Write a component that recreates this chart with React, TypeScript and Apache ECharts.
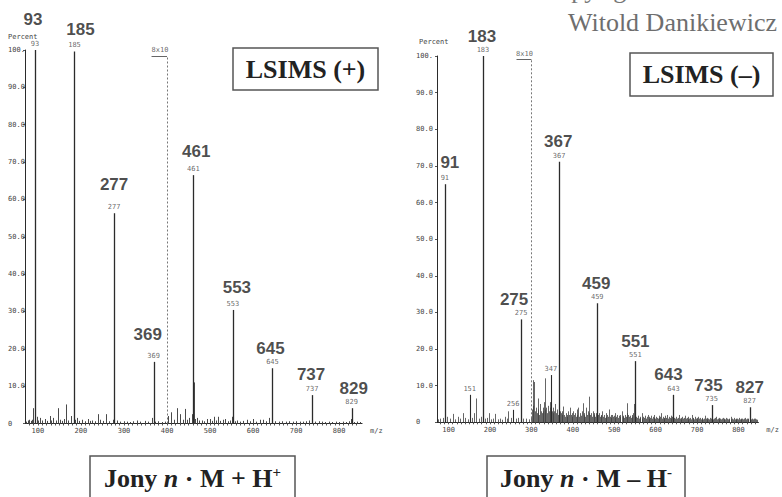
import React, { useEffect, useRef } from "react";
import * as echarts from "echarts";

// Principal ion series (m/z and relative intensity, %)
const leftIonMz = [93, 185, 277, 369, 461, 553, 645, 737, 829];
const leftIonPct = [100, 99.6, 56.3, 16.5, 66.5, 30.4, 14.8, 7.6, 4.1];
const rightIonMz = [91, 183, 275, 367, 459, 551, 643, 735, 827];
const rightIonPct = [65, 100, 28.1, 71.1, 32.5, 16.7, 7.5, 4.7, 4.1];

// Smaller labelled peaks in the negative-ion spectrum
const rightMinorMz = [151, 256, 347];
const rightMinorPct = [7.5, 3.4, 12.9];

// Unlabelled peaks [m/z, %]
const leftNoise: [number, number][] = [
  [72, 0.5], [76, 0.8], [80, 1.0], [84, 0.7], [87, 1.0], [89, 4.1], [94, 16.5], [97, 1.8],
  [101, 0.8], [105, 1.5], [110, 0.8], [116, 1.2], [122, 0.7], [128, 2.0], [131, 0.8], [135, 1.5],
  [141, 0.8], [147, 4.1], [151, 1.0], [157, 0.7], [161, 1.2], [165, 5.1], [170, 0.8], [178, 2.0],
  [184, 27.0], [187, 1.0], [190, 1.5], [196, 0.7], [202, 1.0], [209, 0.6], [217, 1.2], [221, 0.7],
  [225, 0.8], [232, 0.6], [240, 2.5], [244, 1.0], [251, 0.7], [258, 2.5], [265, 0.6], [274, 1.0],
  [276, 5.7], [283, 0.8], [291, 0.5], [299, 0.6], [306, 0.5], [314, 0.4], [322, 0.6], [330, 0.8],
  [338, 0.5], [349, 0.7], [356, 0.5], [364, 1.5], [372, 0.5], [380, 0.6], [388, 0.4], [396, 0.5],
  [403, 2.0], [409, 3.0], [416, 1.0], [424, 4.1], [430, 2.5], [436, 1.0], [442, 3.9], [446, 1.0],
  [450, 1.5], [457, 2.5], [462, 11.0], [465, 1.2], [469, 1.5], [475, 0.8], [481, 0.8], [486, 0.6],
  [492, 1.2], [500, 1.2], [504, 0.7], [508, 1.8], [513, 0.8], [519, 1.8], [524, 0.7], [530, 1.0],
  [535, 1.2], [541, 0.6], [546, 0.8], [552, 1.8], [558, 0.6], [563, 0.8], [570, 0.5], [577, 0.7],
  [585, 1.0], [592, 0.6], [600, 1.2], [607, 0.5], [616, 1.0], [623, 1.0], [630, 0.6], [636, 1.5],
  [644, 1.5], [652, 0.6], [660, 0.5], [668, 0.6], [676, 0.5], [684, 0.6], [692, 0.5], [700, 0.6],
  [708, 0.5], [716, 0.5], [722, 0.6], [729, 0.8], [736, 1.5], [744, 0.5], [752, 0.6], [760, 0.5],
  [768, 0.4], [776, 0.5], [784, 0.4], [792, 0.5], [800, 0.4], [808, 0.5], [816, 0.4], [822, 0.6],
  [828, 1.2], [835, 0.4], [842, 0.5], [848, 0.4],
];

const rightNoise: [number, number][] = [
  [75, 0.8], [80, 1.0], [86, 1.2], [92, 13.5], [97, 1.5], [104, 1.0], [110, 2.3], [116, 0.8],
  [122, 1.5], [128, 1.0], [134, 2.5], [140, 1.2], [146, 0.8], [157, 1.2], [162, 2.5], [167, 6.5],
  [173, 1.0], [178, 1.5], [182, 24.7], [188, 1.0], [193, 1.2], [197, 2.5], [203, 0.8], [208, 1.0],
  [213, 2.3], [219, 0.8], [224, 1.0], [230, 0.7], [236, 1.5], [240, 1.0], [244, 3.0], [250, 1.2],
  [262, 1.0], [268, 1.2], [274, 7.7], [280, 1.0], [287, 1.0], [293, 0.8], [298, 1.2],
  [301, 3.5], [303, 11.5], [305, 4.5], [307, 11.0], [309, 3.0], [311, 4.0], [313, 2.5], [315, 6.5],
  [317, 3.5], [319, 2.0], [321, 5.0], [323, 3.0], [325, 2.5], [327, 4.0], [329, 3.0], [331, 5.5],
  [333, 3.5], [334, 12.0], [336, 4.0], [338, 2.5], [340, 4.5], [342, 3.0], [344, 5.5], [346, 4.0],
  [349, 3.0], [351, 2.5], [353, 4.0], [355, 3.0], [357, 5.0], [359, 2.5], [361, 3.5], [363, 2.0],
  [366, 27.5], [369, 3.0], [371, 2.5], [373, 2.0], [375, 3.0], [377, 4.3], [379, 2.0], [381, 1.5],
  [383, 2.5], [385, 2.0], [387, 1.5], [389, 3.0], [391, 2.0], [393, 4.0], [395, 2.0], [397, 2.5],
  [399, 1.5], [401, 3.0], [403, 2.0], [405, 2.5], [407, 1.5], [409, 3.5], [411, 2.0], [413, 4.0],
  [415, 1.5], [417, 2.5], [419, 1.8], [421, 3.0], [424, 5.2], [426, 2.0], [428, 2.5], [430, 1.5],
  [432, 4.0], [434, 2.0], [436, 3.0], [438, 2.5], [440, 7.0], [442, 2.0], [444, 2.5], [446, 1.5],
  [448, 3.0], [450, 2.0], [452, 2.5], [454, 1.5], [456, 2.5], [458, 7.0], [461, 2.0], [463, 2.5],
  [465, 1.5], [467, 2.0], [469, 1.8], [471, 3.0], [473, 1.5], [475, 2.0], [477, 1.2], [479, 2.5],
  [481, 1.5], [483, 2.0], [485, 1.5], [487, 3.5], [489, 1.5], [491, 2.0], [493, 1.2], [495, 2.0],
  [497, 1.5], [499, 1.8], [501, 1.2], [503, 2.5], [505, 1.5], [507, 2.0], [509, 1.2], [511, 1.8],
  [513, 1.5], [515, 2.0], [518, 3.0], [520, 1.5], [522, 1.8], [524, 1.2], [526, 2.0], [528, 1.5],
  [530, 2.5], [532, 5.2], [534, 2.0], [536, 1.5], [538, 1.8], [540, 1.2], [542, 2.0], [544, 1.5],
  [546, 2.5], [548, 5.0], [553, 1.5], [555, 1.2], [557, 1.8], [559, 1.0], [561, 1.5], [563, 1.2],
  [566, 2.5], [568, 1.0], [570, 1.5], [572, 1.2], [574, 1.8], [576, 1.0], [578, 1.5], [581, 2.0],
  [583, 1.0], [585, 1.5], [587, 1.2], [589, 1.8], [591, 1.0], [593, 1.5], [595, 1.2], [597, 2.0],
  [599, 1.0], [601, 1.5], [603, 1.2], [605, 1.0], [607, 1.8], [609, 1.2], [611, 1.5], [613, 2.5],
  [615, 1.0], [617, 1.5], [619, 1.2], [621, 1.0], [623, 1.8], [625, 1.2], [628, 2.0], [630, 1.0],
  [632, 1.5], [634, 1.2], [636, 1.8], [638, 1.0], [640, 1.5], [642, 4.0], [645, 1.2], [647, 1.0],
  [649, 1.5], [651, 1.0], [653, 1.2], [656, 2.0], [658, 1.0], [660, 1.2], [662, 0.8], [664, 1.5],
  [666, 1.0], [668, 1.2], [671, 1.8], [673, 1.0], [675, 1.2], [677, 0.8], [679, 1.5], [681, 1.0],
  [683, 1.2], [685, 0.8], [687, 2.0], [689, 1.0], [691, 1.2], [693, 0.8], [695, 1.5], [697, 1.0],
  [699, 1.2], [701, 0.8], [703, 1.5], [705, 1.0], [707, 1.2], [709, 0.8], [711, 1.0], [713, 1.2],
  [715, 0.8], [717, 1.0], [719, 1.8], [721, 1.0], [723, 0.8], [725, 1.2], [727, 1.0], [729, 0.8],
  [731, 1.2], [733, 1.0], [737, 1.0], [739, 0.8], [741, 1.0], [743, 1.2], [746, 1.5], [748, 0.8],
  [750, 1.0], [752, 0.8], [754, 1.2], [756, 1.0], [758, 0.8], [760, 1.0], [762, 1.2], [764, 0.8],
  [766, 1.0], [768, 0.8], [770, 1.2], [772, 1.0], [774, 0.8], [776, 1.0], [778, 0.8], [781, 1.5],
  [783, 0.8], [785, 1.0], [787, 0.8], [789, 1.2], [791, 0.8], [793, 1.0], [795, 0.8], [797, 1.0],
  [799, 0.8], [801, 1.2], [803, 0.8], [805, 1.0], [807, 0.8], [809, 1.0], [811, 0.8], [813, 1.0],
  [816, 1.2], [818, 0.8], [820, 1.0], [822, 0.8], [824, 1.0], [829, 1.0], [831, 0.8], [833, 1.0],
  [835, 0.8], [837, 1.0], [840, 1.0], [842, 0.8], [844, 0.7],
];

// Axis ticks and labels
const yTickValues = [0, 10, 20, 30, 40, 50, 60, 70, 80, 90, 100];
const yTickLabels = ["0", "10.0", "20.0", "30.0", "40.0", "50.0", "60.0", "70.0", "80.0", "90.0", "100."];
const xTickLabels = [100, 200, 300, 400, 500, 600, 700, 800];

// Start of the x10 magnified region
const leftMagnifyFrom = 400;
const rightMagnifyFrom = 300;
const magnifyLabel = "8x10";

// Headline label placement: [horizontal shift px, gap above peak px]
const leftBigLabelPlace = [[-2, 22], [6, 13], [0, 20], [-6, 18], [3, 15], [4, 13], [-2, 11], [-1, 12], [2, 11]];
const rightBigLabelPlace = [[5, 13], [-1, 11], [-7, 11], [-1, 11], [-1, 11], [0, 11], [-5, 11], [-3, 11], [0, 11]];

const MONO = "'DejaVu Sans Mono', 'Liberation Mono', monospace";
const SANS = "'Liberation Sans', Arial, sans-serif";
const SERIF = "'Liberation Serif', 'Times New Roman', serif";
const INK = "#2b2b2b";

const minorTicks: number[] = [];
for (let v = 80; v <= 840; v += 10) minorTicks.push(v);

function stickSeries(idx: number, data: [number, number][], color: string, width: number) {
  return {
    type: "custom",
    xAxisIndex: idx,
    yAxisIndex: idx,
    silent: true,
    clip: false,
    data,
    encode: { x: 0, y: 1 },
    renderItem: (_params: any, api: any) => {
      const base = api.coord([api.value(0), 0]);
      const top = api.coord([api.value(0), api.value(1)]);
      const x = Math.round(base[0]) + 0.5;
      return {
        type: "line",
        shape: { x1: x, y1: base[1], x2: x, y2: top[1] },
        style: { stroke: color, lineWidth: width },
      };
    },
  };
}

function smallLabels(idx: number, mz: number[], pct: number[]) {
  return {
    type: "scatter",
    xAxisIndex: idx,
    yAxisIndex: idx,
    silent: true,
    symbolSize: 1,
    itemStyle: { color: "transparent" },
    data: mz.map((m, i) => [m, pct[i]]),
    label: {
      show: true,
      position: "top",
      distance: 2,
      formatter: (p: any) => String(p.value[0]),
      fontFamily: MONO,
      fontSize: 7,
      color: "#444",
    },
  };
}

function bigLabels(idx: number, mz: number[], pct: number[], place: number[][]) {
  return {
    type: "scatter",
    xAxisIndex: idx,
    yAxisIndex: idx,
    silent: true,
    symbolSize: 1,
    itemStyle: { color: "transparent" },
    data: mz.map((m, i) => ({
      value: [m, pct[i]],
      label: { offset: [place[i][0], 0], distance: place[i][1] },
    })),
    label: {
      show: true,
      position: "top",
      formatter: (p: any) => String(p.value[0]),
      fontFamily: SANS,
      fontWeight: "bold",
      fontSize: 17,
      lineHeight: 17,
      color: "#1e1e1e",
    },
  };
}

function magnifyMarks(idx: number, from: number, topPct: number) {
  return {
    type: "scatter",
    xAxisIndex: idx,
    yAxisIndex: idx,
    silent: true,
    symbolSize: 1,
    itemStyle: { color: "transparent" },
    data: [[from, topPct]],
    label: {
      show: true,
      position: "top",
      distance: 2,
      offset: [-7, 0],
      formatter: magnifyLabel,
      fontFamily: MONO,
      fontSize: 7,
      color: "#444",
    },
    markLine: {
      silent: true,
      symbol: "none",
      label: { show: false },
      data: [
        [{ coord: [from, 0] }, { coord: [from, topPct], lineStyle: { type: [2, 2], color: "#777", width: 1 } }],
        [{ coord: [from - 36, topPct] }, { coord: [from, topPct], lineStyle: { type: "solid", color: "#666", width: 1 } }],
      ],
    },
  };
}

function xAxisFor(idx: number, min: number, max: number) {
  return {
    type: "value",
    gridIndex: idx,
    min,
    max,
    splitLine: { show: false },
    axisLine: { show: true, lineStyle: { color: INK, width: 1.2 } },
    axisTick: { show: true, customValues: minorTicks, length: 2, lineStyle: { color: "#555" } },
    axisLabel: {
      show: true,
      customValues: xTickLabels,
      fontFamily: MONO,
      fontSize: 7,
      color: "#444",
      margin: 4,
    },
    name: "m/z",
    nameLocation: "end",
    nameGap: 8,
    nameTextStyle: { fontFamily: MONO, fontSize: 7, color: "#444", verticalAlign: "top", padding: [4, 0, 0, 0] },
  };
}

function yAxisFor(idx: number, labelMargin: number) {
  return {
    type: "value",
    gridIndex: idx,
    min: 0,
    max: 100,
    interval: 10,
    splitLine: { show: false },
    axisLine: { show: true, lineStyle: { color: INK, width: 1 } },
    axisTick: { show: true, length: 2, lineStyle: { color: "#555" } },
    axisLabel: {
      show: true,
      align: "left",
      margin: labelMargin,
      fontFamily: MONO,
      fontSize: 7,
      color: "#444",
      formatter: (v: number) => yTickLabels[yTickValues.indexOf(v)] ?? "",
    },
  };
}

function boxedTitle(x: number, y: number, w: number, h: number, textY: number, text: string, rich?: any) {
  return {
    type: "group",
    children: [
      { type: "rect", shape: { x, y, width: w, height: h }, style: { fill: "#fff", stroke: "#555", lineWidth: 1.5 } },
      {
        type: "text",
        x: x + w / 2,
        y: textY,
        style: {
          text,
          rich,
          align: "center",
          verticalAlign: "middle",
          fontFamily: SERIF,
          fontWeight: "bold",
          fontSize: 26,
          fill: "#222",
        },
      },
    ],
  };
}

export default function App() {
  const ref = useRef<HTMLDivElement>(null);

  useEffect(() => {
    if (!ref.current) return;
    const chart = echarts.init(ref.current, null, { renderer: "svg" });

    const leftIons: [number, number][] = leftIonMz.map((m, i) => [m, leftIonPct[i]]);
    const rightIons: [number, number][] = rightIonMz.map((m, i) => [m, rightIonPct[i]]);
    const rightMinor: [number, number][] = rightMinorMz.map((m, i) => [m, rightMinorPct[i]]);

    const captionRich = {
      t: { fontFamily: SERIF, fontWeight: "bold", fontSize: 26, fill: "#222" },
      i: { fontFamily: SERIF, fontWeight: "bold", fontStyle: "italic", fontSize: 26, fill: "#222" },
      s: { fontFamily: SERIF, fontWeight: "bold", fontSize: 15, fill: "#222", padding: [0, 0, 12, 0] },
    };

    chart.setOption({
      animation: false,
      backgroundColor: "#ffffff",
      grid: [
        { left: 25, top: 50, width: 337, height: 373.5 },
        { left: 437, top: 56, width: 330, height: 366.3 },
      ],
      xAxis: [xAxisFor(0, 70, 853), xAxisFor(1, 72, 848)],
      yAxis: [yAxisFor(0, 17), yAxisFor(1, 21)],
      series: [
        stickSeries(0, leftNoise, "#4a4a4a", 1),
        stickSeries(0, leftIons, INK, 1.3),
        smallLabels(0, leftIonMz, leftIonPct),
        bigLabels(0, leftIonMz, leftIonPct, leftBigLabelPlace),
        magnifyMarks(0, leftMagnifyFrom, 98.4),
        stickSeries(1, rightNoise, "#3f3f3f", 0.8),
        stickSeries(1, rightMinor, INK, 1.1),
        stickSeries(1, rightIons, INK, 1.3),
        smallLabels(1, rightIonMz, rightIonPct),
        smallLabels(1, rightMinorMz, rightMinorPct),
        bigLabels(1, rightIonMz, rightIonPct, rightBigLabelPlace),
        magnifyMarks(1, rightMagnifyFrom, 99.0),
      ],
      graphic: [
        { type: "text", x: 8, y: 37, style: { text: "Percent", fontFamily: MONO, fontSize: 7, fill: "#444", verticalAlign: "middle" } },
        { type: "text", x: 419, y: 42, style: { text: "Percent", fontFamily: MONO, fontSize: 7, fill: "#444", verticalAlign: "middle" } },
        boxedTitle(233, 48, 145, 42, 69, "LSIMS (+)"),
        boxedTitle(630, 53, 143, 43, 74.5, "LSIMS (\u2013)"),
        boxedTitle(90, 456, 205, 60, 478, "{t|Jony }{i|n}{t| \u00b7 M + H}{s|+}", captionRich),
        boxedTitle(487, 456, 198, 60, 478, "{t|Jony }{i|n}{t| \u00b7 M \u2013 H}{s|-}", captionRich),
        {
          type: "text",
          x: 541,
          y: 2,
          style: { text: "Copyright \u00a9", fontFamily: SERIF, fontSize: 26, fill: "#777", verticalAlign: "bottom" },
        },
        {
          type: "text",
          x: 777,
          y: 22,
          style: { text: "Witold Danikiewicz", fontFamily: SERIF, fontSize: 26, fill: "#6e6e6e", align: "right", verticalAlign: "middle" },
        },
      ],
    });

    return () => chart.dispose();
  }, []);

  return <div ref={ref} style={{ width: 782, height: 497, position: "absolute", left: 0, top: 0 }} />;
}
